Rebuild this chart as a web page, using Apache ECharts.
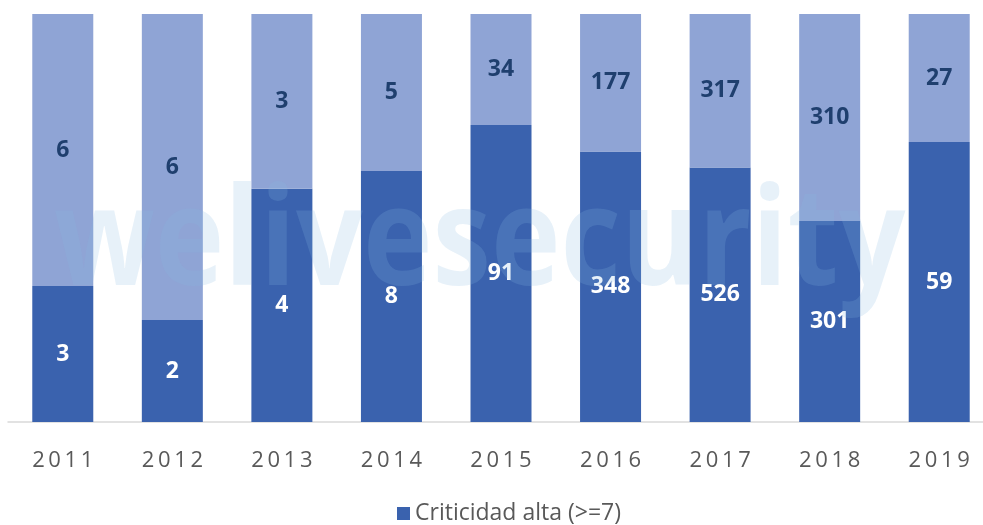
<!DOCTYPE html>
<html>
<head>
<meta charset="utf-8">
<script src="https://cdn.jsdelivr.net/npm/echarts@6/dist/echarts.min.js"></script>
<style>
  html, body { margin: 0; padding: 0; background: #ffffff; }
  #chart { width: 983px; height: 525px; }
</style>
</head>
<body>
<div id="chart"></div>
<script>
// Years on the category axis
const years = ['2011', '2012', '2013', '2014', '2015', '2016', '2017', '2018', '2019'];
// Counts with high criticality (>=7)
const criticidadAlta = [3, 2, 4, 8, 91, 348, 526, 301, 59];
// Counts with lower criticality (<7)
const criticidadBaja = [6, 6, 3, 5, 34, 177, 317, 310, 27];

const totals = years.map((_, i) => criticidadAlta[i] + criticidadBaja[i]);
const share = (arr) => arr.map((v, i) => ({ value: v / totals[i] * 100, raw: v }));

const chart = echarts.init(document.getElementById('chart'), null, { renderer: 'canvas' });

const labelFont = { fontFamily: 'Open Sans', fontWeight: 'bold', fontSize: 23 };

chart.setOption({
  animation: false,
  backgroundColor: '#ffffff',
  grid: {
    left: 8, right: -11, top: 14, bottom: 103,
    containLabel: false,
    outerBoundsMode: 'none'
  },
  legend: {
    data: ['Criticidad alta (>=7)'],
    left: 392,
    top: 497,
    icon: 'rect',
    itemWidth: 13,
    itemHeight: 13,
    itemGap: 8,
    textStyle: { color: '#595959', fontFamily: 'Open Sans', fontSize: 23 }
  },
  xAxis: {
    type: 'category',
    data: years,
    axisLine: { lineStyle: { color: '#d9d9d9', width: 1.5 } },
    axisTick: { show: false },
    axisLabel: {
      color: '#595959',
      fontFamily: 'Open Sans',
      fontSize: 22,
      margin: 28,
      formatter: (v) => v.split('').join('\u2009')
    }
  },
  yAxis: {
    type: 'value',
    min: 0,
    max: 100,
    show: false,
    splitLine: { show: false }
  },
  series: [
    {
      name: 'Criticidad alta (>=7)',
      type: 'bar',
      stack: 'total',
      barWidth: 61,
      data: share(criticidadAlta),
      itemStyle: { color: '#3a62ae' },
      label: {
        show: true,
        position: 'inside',
        color: '#ffffff',
        ...labelFont,
        formatter: (p) => String(p.data.raw)
      }
    },
    {
      name: 'Criticidad baja (<7)',
      type: 'bar',
      stack: 'total',
      barWidth: 61,
      data: share(criticidadBaja),
      itemStyle: { color: '#8fa4d5' },
      label: {
        show: true,
        position: 'inside',
        color: '#1f3f6e',
        ...labelFont,
        formatter: (p) => String(p.data.raw)
      }
    }
  ],
  graphic: [
    {
      type: 'text',
      left: 54,
      top: 178,
      z: 100,
      silent: true,
      scaleX: 0.865,
      style: {
        text: 'welivesecurity',
        fontFamily: 'Open Sans',
        fontWeight: 'bold',
        fontSize: 136,
        fill: 'rgba(135,185,225,0.2)'
      }
    }
  ]
});
</script>
</body>
</html>
